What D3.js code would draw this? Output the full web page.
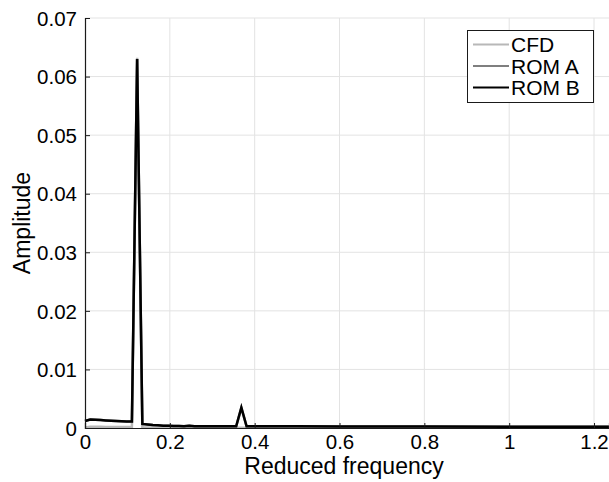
<!DOCTYPE html>
<html><head><meta charset="utf-8">
<script src="https://cdn.jsdelivr.net/npm/d3@7"></script>
<style>body{margin:0;background:#fff}svg{display:block}text{font-family:"Liberation Sans",Arial,Helvetica,sans-serif}</style>
</head><body><svg id="c" width="609" height="482"></svg>
<script>
const freq = [0,0.0123,0.0246,0.0369,0.0492,0.0614,0.0737,0.0860,0.0983,0.1106,0.1229,0.1352,0.1475,0.1598,0.1720,0.1843,0.1966,0.2089,0.2212,0.2335,0.2458,0.2581,0.2704,0.2826,0.2949,0.3072,0.3195,0.3318,0.3441,0.3564,0.3686,0.3809,0.3932,0.5,0.6,0.8,1.0,1.235];
const cfd  = [0.0001,0.0002,0.0002,0.0002,0.00019,0.00018,0.00018,0.00017,0.00016,0.00015,0.0632,0.0001,0.00008,0.00007,0.00006,0.00006,0.00005,0.00005,0.00005,0.00005,0.00008,0.00005,0.00005,0.00005,0.00005,0.00005,0.00005,0.00005,0.00005,0.00005,0.00006,0.00005,0.00004,0.00004,0.00003,0.00003,0.00003,0.00003];
const romA = [0.0012,0.00145,0.0014,0.00135,0.0013,0.00125,0.0012,0.00115,0.0011,0.0011,0.0630,0.0007,0.0006,0.0005,0.00045,0.0004,0.0004,0.00035,0.00035,0.0003,0.0004,0.0003,0.0003,0.0003,0.0003,0.0003,0.0003,0.0003,0.0003,0.0003,0.0034,0.0003,0.0003,0.00028,0.00026,0.00024,0.00022,0.0002];
const romB = [0.0012,0.00145,0.0014,0.00135,0.0013,0.00125,0.0012,0.00115,0.0011,0.0011,0.0630,0.0007,0.0006,0.0005,0.00045,0.0004,0.0004,0.00035,0.00035,0.0003,0.0004,0.0003,0.0003,0.0003,0.0003,0.0003,0.0003,0.0003,0.0003,0.0003,0.0035,0.0003,0.0003,0.00028,0.00026,0.00024,0.00022,0.0002];
const xTicks = [0,0.2,0.4,0.6,0.8,1,1.2];
const xTickLabels = ["0","0.2","0.4","0.6","0.8","1","1.2"];
const yTicks = [0,0.01,0.02,0.03,0.04,0.05,0.06,0.07];
const yTickLabels = ["0","0.01","0.02","0.03","0.04","0.05","0.06","0.07"];
const seriesNames = ["CFD","ROM A","ROM B"];
const seriesColors = ["#b8b8b8","#7f7f7f","#000000"];

const L=85,T=18,B=428,R=609;
const svg=d3.select("#c");
const x=d3.scaleLinear().domain([0,1.2353]).range([L,R]);
const y=d3.scaleLinear().domain([0,0.07]).range([B,T]);

const g=svg.append("g");
// grid
g.selectAll(".gx").data(xTicks.slice(1)).join("line").attr("x1",d=>x(d)).attr("x2",d=>x(d)).attr("y1",T).attr("y2",B).attr("stroke","#e3e3e3").attr("stroke-width",1);
g.selectAll(".gy").data(yTicks.slice(1)).join("line").attr("x1",L).attr("x2",R).attr("y1",d=>y(d)).attr("y2",d=>y(d)).attr("stroke","#e3e3e3").attr("stroke-width",1);

// lines
const series=[cfd,romA,romB];
const line=d3.line().x((d,i)=>x(freq[i])).y(d=>y(d));
series.forEach((s,k)=>{
  g.append("path").datum(s).attr("d",line).attr("fill","none").attr("stroke",seriesColors[k]).attr("stroke-width",2.5).attr("stroke-linejoin","miter").attr("stroke-miterlimit",10);
});

// axes
const xAxis=d3.axisBottom(x).tickValues(xTicks).tickFormat((d,i)=>xTickLabels[i]).tickSize(-5).tickPadding(6);
const yAxis=d3.axisLeft(y).tickValues(yTicks).tickFormat((d,i)=>yTickLabels[i]).tickSize(-5).tickPadding(8);
const ax=svg.append("g").attr("transform",`translate(0,${B})`).call(xAxis);
const ay=svg.append("g").attr("transform",`translate(${L},0)`).call(yAxis);
[ax,ay].forEach(a=>{
  a.select(".domain").attr("stroke","#1a1a1a").attr("stroke-width",1.2);
  a.selectAll(".tick line").attr("stroke","#1a1a1a");
  a.selectAll(".tick text").attr("fill","#000").style("font-size","20.5px");
});
ax.selectAll(".tick text").attr("dy","0.71em");
ay.selectAll(".tick text").attr("dy","0.35em");

svg.append("text").attr("x",344).attr("y",474).attr("text-anchor","middle").style("font-size","23px").text("Reduced frequency");
svg.append("text").attr("transform",`translate(30,${(T+B)/2}) rotate(-90)`).attr("text-anchor","middle").style("font-size","23px").text("Amplitude");

// legend
const lg=svg.append("g");
lg.append("rect").attr("x",467.5).attr("y",30.5).attr("width",126).attr("height",72).attr("fill","#fff").attr("stroke","#1a1a1a").attr("stroke-width",1);
seriesNames.forEach((n,k)=>{
  const yy=44.5+k*21.5;
  lg.append("line").attr("x1",473).attr("x2",509).attr("y1",yy).attr("y2",yy).attr("stroke",seriesColors[k]).attr("stroke-width",2.2);
  lg.append("text").attr("x",511).attr("y",yy).attr("dy","0.36em").style("font-size","21px").text(n);
});
</script></body></html>
